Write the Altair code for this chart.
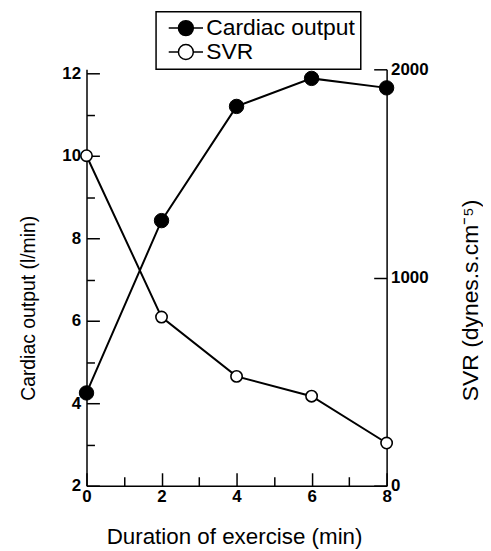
import altair as alt
import pandas as pd

# ---- data ----
time_min = [0, 2, 4, 6, 8]
cardiac_output = [4.25, 8.43, 11.2, 11.88, 11.65]
svr = [1585, 810, 525, 430, 205]
series_names = ["Cardiac output", "SVR"]
series_fill = ["black", "white"]
x_major = [0, 2, 4, 6, 8]
x_minor = [1, 3, 5, 7]
co_major = [2, 4, 6, 8, 10, 12]
co_minor = [3, 5, 7, 9, 11]
svr_major = [0, 1000, 2000]
x_title = "Duration of exercise (min)"
co_title = "Cardiac output (l/min)"
svr_title = "SVR (dynes.s.cm⁻⁵)"

co_df = pd.DataFrame({"t": time_min, "v": cardiac_output, "series": series_names[0]})
svr_df = pd.DataFrame({"t": time_min, "v": svr, "series": series_names[1]})

FONT = "Liberation Sans"
W, H = 302, 419
X_DOMAIN = [0, 8]
CO_DOMAIN = [2, 12.1]
SVR_DOMAIN = [0, 2000]
TICK = 13
LEGEND_SYMBOL = "M-2.3,0L-1,0M1,0L2.3,0M1,0A1,1,0,1,1,-1,0A1,1,0,1,1,1,0Z"

common_axis = dict(
    grid=False, labelFont=FONT, labelFontSize=17, labelFontWeight="bold",
    labelColor="black", titleFont=FONT, titleColor="black",
    titleFontWeight="normal", tickColor="black", tickWidth=1.5,
    domainColor="black", domainWidth=1.5, labelOverlap=False,
)

x_main = alt.X(
    "t:Q", scale=alt.Scale(domain=X_DOMAIN, nice=False, zero=False),
    axis=alt.Axis(orient="top", offset=-H, values=x_major, tickSize=TICK,
                  labelPadding=-16, labelBaseline="top", labelFlush=False,
                  title=x_title, titleFontSize=22.5, titleX=148.5, titleY=58.5,
                  titleBaseline="alphabetic", titleAngle=0, **common_axis),
)
y_co = alt.Y(
    "v:Q", scale=alt.Scale(domain=CO_DOMAIN, nice=False, zero=False),
    axis=alt.Axis(orient="right", offset=-W, values=co_major, tickSize=TICK,
                  labelPadding=-19, labelAlign="right", labelBaseline="middle",
                  title=co_title, titleFontSize=19.5, titleAngle=270,
                  titleX=-58, titleY=240, titleBaseline="middle", **common_axis),
)
y_svr = alt.Y(
    "v:Q", scale=alt.Scale(domain=SVR_DOMAIN, nice=False, zero=False),
    axis=alt.Axis(orient="left", offset=-W, values=svr_major, tickSize=TICK,
                  labelPadding=-17, labelAlign="left", labelBaseline="middle",
                  format="d",
                  title=svr_title, titleFontSize=23, titleAngle=270,
                  titleX=84, titleY=232, titleBaseline="middle", **common_axis),
)
x_plain = alt.X("t:Q", scale=alt.Scale(domain=X_DOMAIN, nice=False, zero=False), axis=None)

fill_enc = alt.Fill(
    "series:N",
    scale=alt.Scale(domain=series_names, range=series_fill),
    legend=alt.Legend(
        title=None, orient="none", legendX=70, legendY=-58,
        symbolType=LEGEND_SYMBOL, symbolSize=225, symbolStrokeColor="black",
        symbolStrokeWidth=1.5, symbolOffset=13.5, labelOffset=9,
        labelFont=FONT, labelFontSize=23, labelColor="black",
        padding=5, rowPadding=0, strokeColor="black", fillColor="white",
    ),
)

co_line = alt.Chart(co_df).mark_line(color="black", strokeWidth=2).encode(x=x_main, y=y_co)
co_pts = alt.Chart(co_df).mark_point(
    shape="circle", filled=True, size=210, stroke="black", strokeWidth=1, opacity=1
).encode(x=x_main, y=y_co, fill=fill_enc)
L1 = alt.layer(co_line, co_pts)

svr_line = alt.Chart(svr_df).mark_line(color="black", strokeWidth=2).encode(x=x_plain, y=y_svr)
svr_pts = alt.Chart(svr_df).mark_point(
    shape="circle", filled=True, size=130, stroke="black", strokeWidth=1.6, opacity=1
).encode(x=x_plain, y=y_svr, fill=fill_enc)
L2 = alt.layer(svr_line, svr_pts)

L3 = alt.Chart(co_df).mark_point(opacity=0).encode(
    x=alt.X("t:Q", scale=alt.Scale(domain=X_DOMAIN, nice=False, zero=False),
            axis=alt.Axis(orient="top", offset=-H, values=x_minor, tickSize=9,
                          labels=False, domain=False, grid=False, title=None,
                          tickColor="black", tickWidth=1.5)),
    y=alt.Y("v:Q", scale=alt.Scale(domain=CO_DOMAIN, nice=False, zero=False),
            axis=alt.Axis(orient="right", offset=-W, values=co_minor, tickSize=8,
                          labels=False, domain=False, grid=False, title=None,
                          tickColor="black", tickWidth=1.5)),
)

chart = (
    alt.layer(L1, L2, L3)
    .resolve_scale(x="independent", y="independent")
    .properties(
        width=W, height=H,
        padding={"left": 79, "top": 60, "right": 97, "bottom": 62},
        autosize=alt.AutoSizeParams(type="none"),
        background="white",
    )
    .configure_view(strokeWidth=0)
    .configure_legend(strokeWidth=1.5)
)

chart.save("out.html", embed_options={"renderer": "svg", "actions": False})
